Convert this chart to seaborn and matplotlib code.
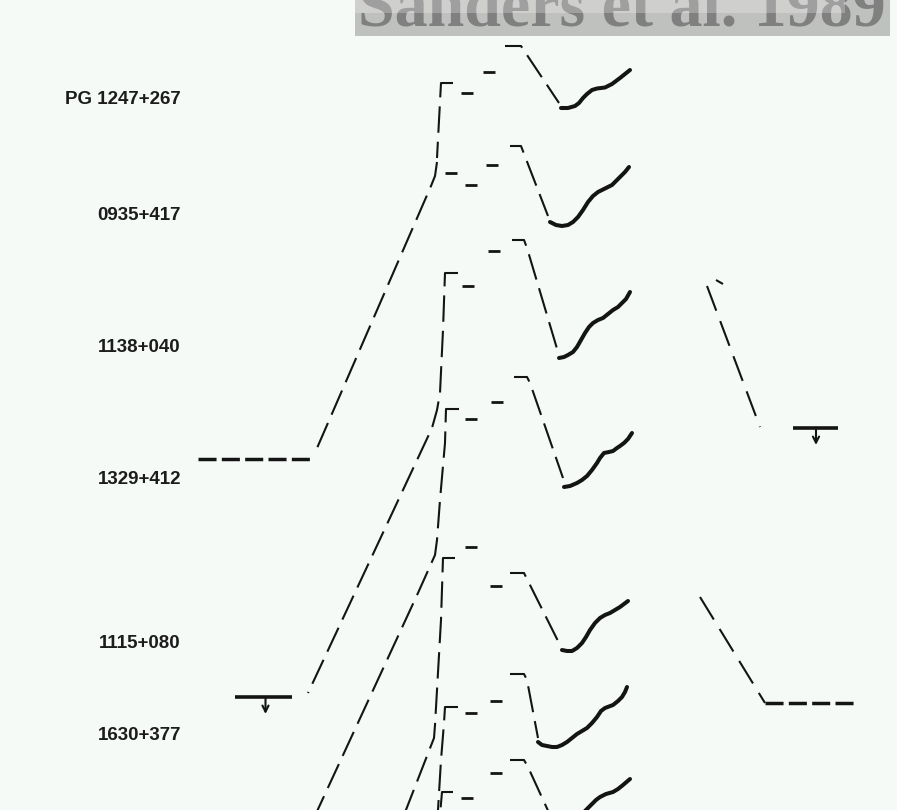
import matplotlib
matplotlib.use("Agg")
import matplotlib.pyplot as plt
from matplotlib.patches import Rectangle
import pandas as pd
import seaborn as sns

# Stacked quasar spectral energy distributions.
# x: log frequency (Hz); y: log(nu F_nu) with a per-object display offset.
names = ["PG 1247+267", "0935+417", "1138+040", "1329+412", "1115+080", "1630+377"]
name_y = [14.20, 11.90, 9.26, 6.62, 3.32, 1.50]
name_x = 8.62

# far-IR turnover and its continuation toward the radio (dashed)
firad_x = [
    [14.06, 13.82, 13.74],
    [13.74, 13.70, 13.62, 11.28],
    [14.16, 13.90, 13.86, 13.80, 13.74, 13.64, 11.16],
    [14.18, 13.92, 13.90, 13.80, 13.74, 13.70, 13.36, 11.26],
    [14.10, 13.86, 13.82, 13.74, 13.70, 13.68, 13.08],
    [14.16, 13.90, 13.88, 13.82, 13.76, 13.74],
    [14.06, 13.84, 13.80],
]
firad_y = [
    [14.54, 14.54, 13.04],
    [12.96, 12.68, 12.48, 7.10],
    [10.74, 10.74, 9.60, 8.34, 8.00, 7.64, 2.34],
    [8.02, 8.02, 7.34, 6.20, 5.40, 5.10, 4.34, -0.20],
    [5.04, 5.04, 3.80, 2.40, 1.70, 1.44, -0.10],
    [2.06, 2.06, 1.74, 1.00, 0.00, -0.20],
    [0.36, 0.36, -0.10],
]

# mid-IR photometry
mir_x = [[14.33, 14.78], [14.02, 14.42, 14.83], [14.36, 14.87], [14.42, 14.93],
         [14.42, 14.92], [14.42, 14.92], [14.34, 14.92]]
mir_y = [[14.34, 14.76], [12.74, 12.50, 12.90], [10.48, 11.18], [7.82, 8.16],
         [5.26, 4.48], [1.94, 2.18], [0.24, 0.74]]

# near-IR peak falling to the 1 micron minimum (dashed)
nir_x = [
    [15.10, 15.42, 16.18],
    [15.20, 15.42, 15.96],
    [15.24, 15.48, 15.54, 16.16],
    [15.28, 15.54, 15.60, 16.26],
    [15.20, 15.48, 15.54, 16.20],
    [15.20, 15.48, 15.54, 15.76],
    [15.20, 15.48, 15.56, 16.00],
]
nir_y = [
    [15.28, 15.28, 14.14],
    [13.28, 13.28, 11.88],
    [11.40, 11.40, 11.24, 9.16],
    [8.66, 8.66, 8.54, 6.64],
    [4.74, 4.74, 4.62, 3.30],
    [2.72, 2.72, 2.60, 1.44],
    [1.00, 1.00, 0.86, -0.10],
]

# optical-UV spectra (solid)
uv_x = [
    [16.22, 16.36, 16.50, 16.58, 16.66, 16.74, 16.84, 16.94, 17.10, 17.24, 17.40, 17.60],
    [16.00, 16.12, 16.24, 16.36, 16.46, 16.56, 16.66, 16.76, 16.86, 16.96, 17.08, 17.24,
     17.32, 17.40, 17.50, 17.58],
    [16.18, 16.28, 16.36, 16.46, 16.54, 16.62, 16.70, 16.78, 16.86, 16.96, 17.06, 17.16,
     17.26, 17.36, 17.44, 17.52, 17.60],
    [16.28, 16.40, 16.54, 16.64, 16.74, 16.84, 16.94, 17.00, 17.08, 17.18, 17.26, 17.34,
     17.40, 17.48, 17.56, 17.64],
    [16.24, 16.34, 16.44, 16.54, 16.64, 16.72, 16.80, 16.90, 17.00, 17.10, 17.20, 17.30,
     17.40, 17.48, 17.56],
    [15.76, 15.84, 15.94, 16.04, 16.14, 16.24, 16.34, 16.44, 16.54, 16.64, 16.74, 16.84,
     16.94, 17.02, 17.10, 17.26, 17.36, 17.44, 17.50, 17.54],
    [16.68, 16.76, 16.84, 16.92, 17.00, 17.12, 17.26, 17.36, 17.46, 17.60],
]
uv_y = [
    [14.04, 14.04, 14.08, 14.14, 14.24, 14.32, 14.40, 14.43, 14.45, 14.52, 14.64, 14.80],
    [11.76, 11.70, 11.68, 11.70, 11.76, 11.86, 12.00, 12.16, 12.28, 12.36, 12.42, 12.50,
     12.58, 12.66, 12.76, 12.86],
    [9.04, 9.06, 9.10, 9.16, 9.26, 9.40, 9.54, 9.66, 9.74, 9.80, 9.84, 9.92,
     10.00, 10.06, 10.14, 10.22, 10.36],
    [6.46, 6.48, 6.54, 6.60, 6.68, 6.80, 6.94, 7.04, 7.14, 7.16, 7.18, 7.24,
     7.28, 7.34, 7.42, 7.54],
    [3.20, 3.18, 3.18, 3.24, 3.34, 3.46, 3.60, 3.74, 3.84, 3.90, 3.94, 4.00,
     4.06, 4.12, 4.18],
    [1.36, 1.30, 1.28, 1.26, 1.26, 1.30, 1.36, 1.44, 1.52, 1.58, 1.64, 1.74,
     1.86, 1.98, 2.04, 2.10, 2.18, 2.26, 2.36, 2.46],
    [-0.04, 0.04, 0.12, 0.20, 0.26, 0.32, 0.36, 0.42, 0.50, 0.62],
]

# X-ray extrapolations (dashed) for 1138+040 and 1115+080
xray_x = [[19.14, 20.20], [19.32, 19.46], [19.00, 20.14, 20.30]]
xray_y = [[10.48, 7.66], [10.60, 10.52], [4.26, 2.40, 2.14]]

# flat spectral bands (heavy dashed): radio of 0935+417, hard X-ray of 1115+080
flat_x = [[8.96, 11.26], [20.30, 22.16]]
flat_y = [[7.02, 7.02], [2.14, 2.14]]

# upper limits: radio and X-ray of 1138+040
ul_lo = [9.70, 20.86]
ul_hi = [10.84, 21.76]
ul_mid = [10.31, 21.32]
ul_y = [2.26, 7.64]

INK = "#141414"
BG = "#f5faf7"


def long_frame(xs, ys):
    rows = []
    for i, (xx, yy) in enumerate(zip(xs, ys)):
        for a, b in zip(xx, yy):
            rows.append((i, a, b))
    return pd.DataFrame(rows, columns=["piece", "lognu", "lognufnu"])


sns.set_style("white")
plt.rcParams["lines.scale_dashes"] = False
plt.rcParams["font.family"] = ["Liberation Sans", "DejaVu Sans"]

fig = plt.figure(figsize=(8.97, 8.10), dpi=100, facecolor=BG)
ax = fig.add_axes([0, 0, 1, 1])
ax.set_facecolor(BG)

common = dict(x="lognu", y="lognufnu", units="piece", estimator=None, sort=False,
              color=INK, legend=False, ax=ax)

sns.lineplot(data=long_frame(firad_x, firad_y), lw=1.5,
             linestyle=(0, (19, 6.5)), **common)
sns.lineplot(data=long_frame(nir_x, nir_y), lw=1.5,
             linestyle=(6, (19, 6.5)), **common)
sns.lineplot(data=long_frame(xray_x, xray_y), lw=1.5,
             linestyle=(0, (19, 8)), **common)
sns.lineplot(data=long_frame(flat_x, flat_y), lw=2.5,
             linestyle=(0, (13, 3.8)), **common)
sns.lineplot(data=long_frame(uv_x, uv_y), lw=2.9,
             solid_capstyle="round", solid_joinstyle="round", **common)

mir = long_frame(mir_x, mir_y)
sns.scatterplot(data=mir, x="lognu", y="lognufnu", marker="_", s=85,
                linewidth=2.0, color=INK, legend=False, ax=ax)

for lo, hi, mid, y in zip(ul_lo, ul_hi, ul_mid, ul_y):
    ax.plot([lo, hi], [y, y], color=INK, lw=2.6, solid_capstyle="butt")
    ax.annotate("", xy=(mid, y - 0.34), xytext=(mid, y),
                arrowprops=dict(arrowstyle="->", lw=1.5, color=INK,
                                shrinkA=0, shrinkB=0, mutation_scale=11))

for name, y in zip(names, name_y):
    ax.text(name_x, y, name, ha="right", va="center", fontsize=13.5,
            fontweight="bold", color="#1c1c1c")

ax.set_xlim(5.0, 22.94)
ax.set_ylim(0.0, 16.2)
ax.set_axis_off()

# citation banner along the top edge
fig.add_artist(Rectangle((355 / 897, 1 - 36 / 810), 535 / 897, 36 / 810,
                         transform=fig.transFigure, facecolor="#bfc1be",
                         edgecolor="none", zorder=5))
fig.text(358 / 897, 1 - 26 / 810, "Sanders et al. 1989", ha="left",
         va="baseline", fontsize=47.5, fontweight="bold", color="#808080",
         family=["Liberation Serif", "DejaVu Serif"], zorder=6)
fig.add_artist(Rectangle((355 / 897, 1 - 13 / 810), 490 / 897, 13 / 810,
                         transform=fig.transFigure, facecolor="white",
                         alpha=0.25, edgecolor="none", zorder=7))

fig.savefig("out.png", dpi=100, facecolor=BG)
